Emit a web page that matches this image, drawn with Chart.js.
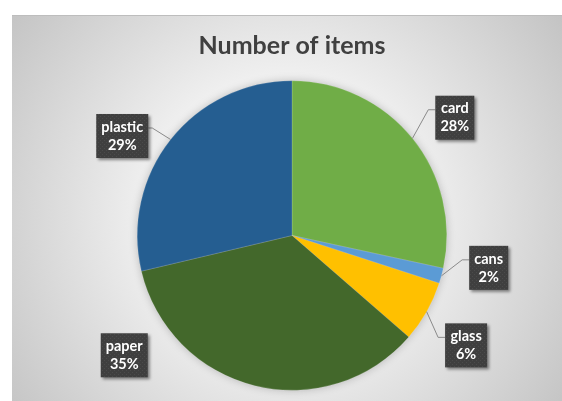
<!DOCTYPE html>
<html>
<head>
<meta charset="utf-8">
<script src="https://cdn.jsdelivr.net/npm/chart.js@4.4.1/dist/chart.umd.min.js"></script>
<style>
  html, body { margin: 0; padding: 0; background: #fff; }
  #wrap { width: 562px; height: 401px; }
</style>
</head>
<body>
<div id="wrap"><canvas id="chart" width="562" height="401"></canvas></div>
<script>
const categories = ["card", "cans", "glass", "paper", "plastic"];
const itemShares = [28.4, 1.6, 6.4, 34.9, 28.7];
const sliceColors = ["#70AD47", "#5B9BD5", "#FFC000", "#43682B", "#255E91"];

// where each data label sits: box centre, in pie radii from the pie centre
const labelSpots = [
  { dx: 1.052, dy: -0.761, leader: true },
  { dx: 1.271, dy: 0.209, leader: true },
  { dx: 1.125, dy: 0.710, leader: true },
  { dx: -1.084, dy: 0.774, leader: false },
  { dx: -1.097, dy: -0.643, leader: true },
];

const total = itemShares.reduce((a, b) => a + b, 0);

// tiny dotted texture used by the label boxes
const dots = document.createElement("canvas");
dots.width = 4; dots.height = 4;
{
  const d = dots.getContext("2d");
  d.fillStyle = "#3f3f3f";
  d.fillRect(0, 0, 4, 4);
  d.fillStyle = "#4b4b4b";
  d.fillRect(0, 0, 1, 1);
  d.fillRect(2, 2, 1, 1);
}

const backdrop = {
  id: "backdrop",
  beforeDraw(chart) {
    const ctx = chart.ctx;
    ctx.save();
    ctx.fillStyle = "#fff";
    ctx.fillRect(0, 0, chart.width, chart.height);
    const g = ctx.createRadialGradient(285, 215, 0, 285, 215, 340);
    g.addColorStop(0, "#ffffff");
    g.addColorStop(0.35, "#f4f4f4");
    g.addColorStop(1, "#c4c4c4");
    ctx.fillStyle = g;
    ctx.fillRect(12, 15, 550, 386);
    ctx.strokeStyle = "#bdbdbd";
    ctx.lineWidth = 1;
    ctx.beginPath();
    ctx.moveTo(12, 15.5);
    ctx.lineTo(562, 15.5);
    ctx.stroke();
    ctx.restore();
  },
  beforeDatasetsDraw(chart) {
    // soft halo round the pie
    const arc = chart.getDatasetMeta(0).data[0];
    if (!arc) return;
    const ctx = chart.ctx;
    ctx.save();
    ctx.shadowColor = "rgba(0,0,0,0.28)";
    ctx.shadowBlur = 10;
    ctx.fillStyle = "#777";
    ctx.beginPath();
    ctx.arc(arc.x, arc.y, arc.outerRadius - 1, 0, Math.PI * 2);
    ctx.fill();
    ctx.restore();
  },
};

const boxLabels = {
  id: "boxLabels",
  afterDatasetsDraw(chart) {
    const ctx = chart.ctx;
    const meta = chart.getDatasetMeta(0);
    const pat = ctx.createPattern(dots, "repeat");
    ctx.save();
    ctx.font = "bold 14.5px Lato";
    meta.data.forEach((arc, i) => {
      const spot = labelSpots[i];
      const R = arc.outerRadius;
      const lines = [categories[i], Math.round(itemShares[i] / total * 100) + "%"];
      const w = Math.ceil(Math.max(...lines.map(t => ctx.measureText(t).width))) + 10;
      const h = 44;
      const cx = arc.x + spot.dx * R;
      const cy = arc.y + spot.dy * R;
      const left = cx - w / 2, top = cy - h / 2;

      if (spot.leader) {
        const mid = (arc.startAngle + arc.endAngle) / 2;
        const ex = arc.x + Math.cos(mid) * R;
        const ey = arc.y + Math.sin(mid) * R;
        const onRight = cx > arc.x;
        const hx = onRight ? left : left + w;
        const hy = top + 14;
        const kx = onRight ? hx - 7 : hx + 4;
        ctx.strokeStyle = "#8a8a8a";
        ctx.lineWidth = 1;
        ctx.beginPath();
        ctx.moveTo(ex, ey);
        ctx.lineTo(kx, hy);
        ctx.lineTo(hx, hy);
        ctx.stroke();
      }

      ctx.save();
      ctx.shadowColor = "rgba(0,0,0,0.45)";
      ctx.shadowBlur = 3;
      ctx.shadowOffsetX = 2;
      ctx.shadowOffsetY = 2;
      ctx.fillStyle = pat;
      ctx.fillRect(left, top, w, h);
      ctx.restore();

      ctx.fillStyle = "#ffffff";
      ctx.textAlign = "center";
      ctx.textBaseline = "middle";
      ctx.fillText(lines[0], cx, top + 13);
      ctx.fillText(lines[1], cx, top + 31);
    });
    ctx.restore();
  },
};

new Chart(document.getElementById("chart"), {
  type: "pie",
  data: {
    labels: categories,
    datasets: [{
      data: itemShares,
      backgroundColor: sliceColors,
      borderColor: "rgba(255,255,255,0.3)",
      borderWidth: 0.5,
    }],
  },
  options: {
    responsive: false,
    animation: false,
    devicePixelRatio: 1,
    layout: { padding: { top: 0, left: 137, right: 115, bottom: 10 } },
    plugins: {
      legend: { display: false },
      tooltip: { enabled: false },
      title: {
        display: true,
        text: "Number of items",
        color: "#404040",
        font: { family: "Lato", size: 25, weight: "bold" },
        padding: { top: 31, bottom: 19 },
      },
    },
  },
  plugins: [backdrop, boxLabels],
});
</script>
</body>
</html>
